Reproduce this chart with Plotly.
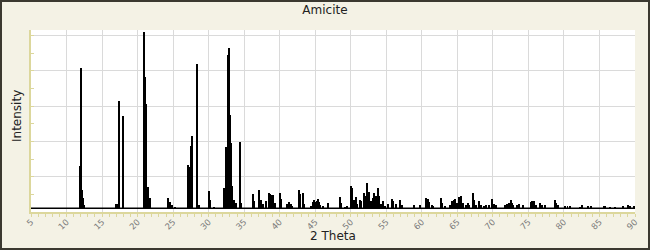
import plotly.graph_objects as go

# ---- data ----
two_theta = [
    11.92, 12.06, 12.2, 12.35, 12.5,
    17.0, 17.15, 17.32, 17.42, 17.89, 17.98,
    20.93, 21.05, 21.2, 21.4, 21.55, 21.8,
    24.31, 24.5, 24.8, 25.3,
    27.04, 27.18, 27.46, 27.6, 28.31, 28.42, 28.6,
    30.08, 30.2, 30.7,
    32.2, 32.5, 32.6, 32.67, 32.81, 32.93, 33.02, 33.1, 33.2, 33.3, 33.5, 33.8,
    34.36, 34.48, 34.6,
    36.28, 36.4, 37.13, 37.3, 37.6, 38.07, 38.54, 38.7, 38.96, 39.1, 39.3,
    40.04, 40.2, 41.0, 41.35, 41.6, 41.8, 42.76, 42.9, 43.24, 43.4,
    44.4, 44.7, 44.85, 45.0, 45.2, 45.35, 45.5, 45.7, 46.1, 46.76,
    48.5, 48.65, 49.2, 49.5, 50.0, 50.15, 50.3, 50.5, 50.7, 50.9,
    51.3, 51.5, 51.88, 52.0, 52.25, 52.4, 52.55, 52.86, 53.1, 53.33, 53.5,
    53.62, 53.85, 54.0, 54.2, 54.5, 54.8, 55.2, 55.77, 56.0, 56.3, 56.94, 57.2,
    58.96, 59.7, 60.6, 60.8, 61.0, 61.4, 61.6, 62.7, 62.85, 63.3,
    64.0, 64.25, 64.5, 64.7, 64.9, 65.3, 65.5, 65.8, 66.2, 66.45, 66.7,
    67.18, 67.3, 67.6, 68.0, 68.3, 68.7, 69.1, 69.5, 69.94, 70.2, 70.5,
    71.7, 72.0, 72.2, 72.5, 72.7, 72.9, 73.45, 73.7, 74.2,
    75.3, 75.5, 75.8, 76.1, 76.7, 76.9, 77.3, 78.78, 78.95, 79.2,
    80.2, 80.5, 80.9, 82.3, 82.5, 83.4, 83.8, 85.6, 85.8, 86.5, 87.2,
    88.3, 89.0, 89.3, 89.8,
]
intensity = [
    26.2, 81.6, 12.3, 7.9, 4.2,
    4.7, 4.7, 63.1, 18.7, 54.6, 17.0,
    102.0, 76.5, 61.2, 14.2, 7.4, 7.9,
    7.9, 5.7, 4.2, 2.8,
    26.8, 25.6, 37.6, 43.2, 84.0, 72.1, 4.0,
    12.1, 6.9, 3.0,
    13.6, 36.8, 18.3, 89.1, 92.9, 60.8, 55.0, 39.1, 27.8, 15.0, 7.0, 5.0,
    39.7, 38.0, 5.0,
    10.4, 6.0, 12.3, 6.8, 4.5, 6.2, 10.9, 10.0, 9.6, 9.6, 5.3,
    10.9, 7.2, 4.5, 5.5, 4.5, 3.5, 12.5, 10.2, 10.9, 4.5,
    3.4, 5.5, 6.8, 5.5, 6.4, 7.4, 5.9, 4.2, 3.2, 4.9,
    8.3, 5.0, 2.7, 3.5, 14.7, 13.8, 5.0, 6.8, 8.3, 4.5,
    6.8, 6.0, 10.6, 9.3, 16.3, 9.8, 11.4, 6.2, 7.7, 10.9, 6.8,
    9.3, 13.4, 9.3, 4.3, 6.4, 3.2, 4.3, 7.4, 6.0, 4.3, 6.8, 4.2,
    4.0, 3.8, 7.8, 7.2, 5.5, 4.2, 3.6, 7.8, 5.3, 3.6,
    4.2, 6.0, 6.8, 7.2, 5.0, 8.3, 9.1, 5.0, 4.2, 5.0, 4.2,
    10.9, 6.8, 4.2, 6.0, 4.2, 3.4, 3.7, 4.2, 7.2, 4.7, 3.7,
    4.2, 4.7, 5.0, 6.8, 5.0, 4.2, 4.2, 4.7, 4.2,
    5.5, 6.0, 6.0, 4.2, 5.0, 4.2, 4.2, 6.8, 5.0, 4.2,
    3.6, 3.2, 3.2, 2.9, 4.2, 3.6, 3.6, 3.6, 3.6, 2.9, 2.9,
    3.6, 4.2, 3.6, 3.6,
]
baseline = 2.1
x_range = [5, 90]
title = "Amicite"
x_title = "2 Theta"
y_title = "Intensity"

# ---- figure ----
W, H = 650, 250
L, R, T, B = 31, 15, 30, 38
pw, ph = W - L - R, H - T - B

BG = "#f4f2e5"
AXIS = "#dcd79c"
GRID = "#dadada"

fig = go.Figure()
fig.add_trace(go.Scatter(
    x=x_range, y=[baseline, baseline], mode="lines",
    line=dict(color="black", width=1.4), hoverinfo="skip", showlegend=False,
))
fig.add_trace(go.Bar(
    x=two_theta, y=[v - baseline for v in intensity], base=baseline,
    width=0.14, marker=dict(color="black", line=dict(width=0)),
    showlegend=False,
))

fig.update_layout(
    width=W, height=H,
    margin=dict(l=L, r=R, t=T, b=B, pad=0),
    paper_bgcolor=BG, plot_bgcolor="white",
    font=dict(family="DejaVu Sans, Arial, sans-serif", color="#222"),
    title=dict(text=title, x=0.5, xanchor="center", y=1 - 10 / H,
               yanchor="middle", font=dict(size=12, color="#222")),
    bargap=0,
)
fig.update_xaxes(
    range=x_range, dtick=5, tick0=5,
    showgrid=True, gridcolor=GRID, gridwidth=1,
    showline=True, linecolor=AXIS, linewidth=1.5,
    ticks="outside", ticklen=3, tickcolor=AXIS, tickwidth=1,
    minor=dict(dtick=1, ticks="outside", ticklen=3, tickcolor=AXIS, showgrid=False),
    tickangle=-45, tickfont=dict(size=8.5, color="#7a7a7a"),
    ticklabelstandoff=-3,
    zeroline=False,
)
fig.update_yaxes(
    range=[0, 103.1], dtick=20, tick0=0,
    showgrid=True, gridcolor=GRID, gridwidth=1,
    showline=True, linecolor=AXIS, linewidth=1.5,
    ticks="inside", ticklen=3, tickcolor=AXIS,
    minor=dict(dtick=10, ticks="inside", ticklen=3, tickcolor=AXIS, showgrid=False),
    showticklabels=False, zeroline=False,
)

fig.add_annotation(text=x_title, xref="paper", yref="paper",
                   x=0.5, y=-(236 - (T + ph)) / ph, xanchor="center", yanchor="middle",
                   showarrow=False, font=dict(size=12, color="#222"))
fig.add_annotation(text=y_title, xref="paper", yref="paper", textangle=-90,
                   x=-(L - 17) / pw, y=(T + ph - 116) / ph, xanchor="center", yanchor="middle",
                   showarrow=False, font=dict(size=12, color="#222"))

# outer frame
fig.add_shape(type="rect", xref="paper", yref="paper",
              x0=-(L - 1) / pw, x1=1 + (R - 1) / pw,
              y0=-(B - 1) / ph, y1=1 + (T - 1) / ph,
              line=dict(color="#3b3930", width=2), fillcolor="rgba(0,0,0,0)", layer="above")

fig.write_html("out.html")
